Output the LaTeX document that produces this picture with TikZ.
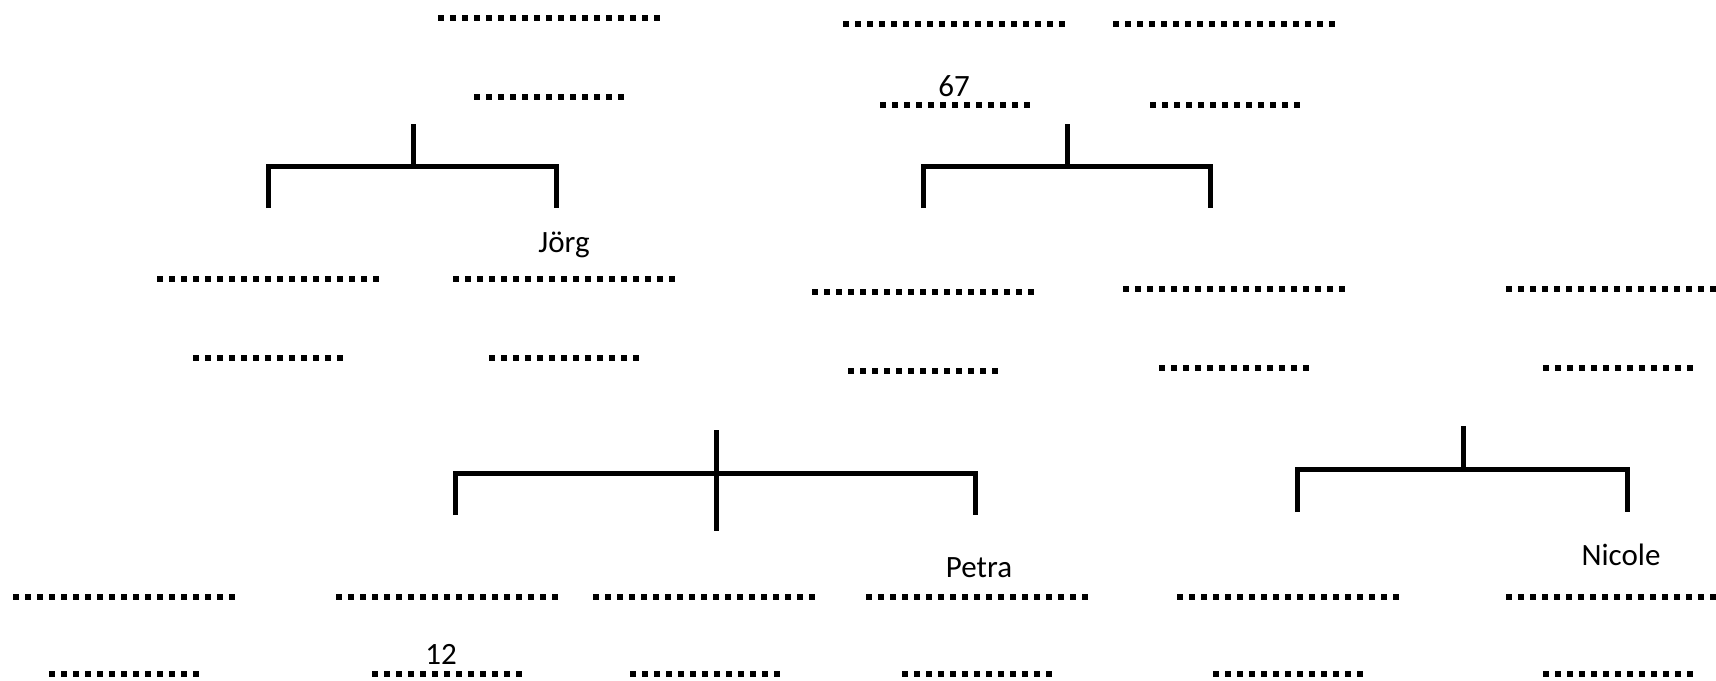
\documentclass[tikz,border=0pt]{standalone}
\usepackage{fontspec}
\setmainfont{Carlito}
\newcommand\sqrow[1]{\rule{5.4pt}{5.4pt}\foreach \k in {2,...,#1}{\hspace{6.6pt}\rule{5.4pt}{5.4pt}}}
\begin{document}
\begin{tikzpicture}[x=1pt,y=-1pt,
    longrow/.style={inner sep=0pt},
    namelabel/.style={inner sep=0pt,anchor=base,font=\fontsize{31}{36}\selectfont},
    bracket/.style={line width=5pt}]
            \useasboundingbox (0,0) rectangle (1716,680);
            % grandparents
            \node[longrow] (gpa) at (549,18) {\sqrow{19}};
            \node[longrow] (gpad) at (549,97) {\sqrow{13}};
            \node[longrow] (gpb) at (954,24) {\sqrow{19}};
            \node[longrow] (gpbd) at (955,105) {\sqrow{13}};
            \node[longrow] (gpc) at (1224,24) {\sqrow{19}};
            \node[longrow] (gpcd) at (1225,105) {\sqrow{13}};
            \node[namelabel] (lbla) at (954,96) {67};
            % parents
            \node[longrow] (pa) at (268,279) {\sqrow{19}};
            \node[longrow] (pad) at (268,358) {\sqrow{13}};
            \node[longrow] (pb) at (564,279) {\sqrow{19}};
            \node[longrow] (pbd) at (564,358) {\sqrow{13}};
            \node[longrow] (pc) at (923,292) {\sqrow{19}};
            \node[longrow] (pcd) at (923,371) {\sqrow{13}};
            \node[longrow] (pd) at (1234,289) {\sqrow{19}};
            \node[longrow] (pdd) at (1234,368) {\sqrow{13}};
            \node[longrow] (pe) at (1617,289) {\sqrow{19}};
            \node[longrow] (ped) at (1618,368) {\sqrow{13}};
            \node[namelabel] (lblb) at (564,252) {Jörg};
            % children
            \node[longrow] (ca) at (124,597) {\sqrow{19}};
            \node[longrow] (cad) at (124,674) {\sqrow{13}};
            \node[longrow] (cb) at (447,597) {\sqrow{19}};
            \node[longrow] (cbd) at (447,674) {\sqrow{13}};
            \node[longrow] (cc) at (704,597) {\sqrow{19}};
            \node[longrow] (ccd) at (705,674) {\sqrow{13}};
            \node[longrow] (cd) at (977,597) {\sqrow{19}};
            \node[longrow] (cdd) at (977,674) {\sqrow{13}};
            \node[longrow] (ce) at (1288,597) {\sqrow{19}};
            \node[longrow] (ced) at (1288,674) {\sqrow{13}};
            \node[longrow] (cf) at (1617,597) {\sqrow{19}};
            \node[longrow] (cfd) at (1618,674) {\sqrow{13}};
            \node[namelabel] (lblc) at (441,664) {12};
            \node[namelabel] (lbld) at (979,577) {Petra};
            \node[namelabel] (lble) at (1621,565) {Nicole};
            % brackets
            \coordinate (ja) at (413,166);
            \coordinate (jas) at (413,124);
            \coordinate (jal) at (268,208);
            \coordinate (jar) at (556,208);
            \coordinate (jb) at (1067,166);
            \coordinate (jbs) at (1067,124);
            \coordinate (jbl) at (923,208);
            \coordinate (jbr) at (1210,208);
            \coordinate (jc) at (716,473);
            \coordinate (jcs) at (716,430);
            \coordinate (jce) at (716,531);
            \coordinate (jcl) at (455,515);
            \coordinate (jcr) at (975,515);
            \coordinate (jd) at (1463,469);
            \coordinate (jds) at (1463,426);
            \coordinate (jdl) at (1297,512);
            \coordinate (jdr) at (1627,512);
            \draw[bracket] (jal) |- (ja) -| (jar);
            \draw[bracket] (jas) -- (ja);
            \draw[bracket] (jbl) |- (jb) -| (jbr);
            \draw[bracket] (jbs) -- (jb);
            \draw[bracket] (jcl) |- (jc) -| (jcr);
            \draw[bracket] (jcs) -- (jce);
            \draw[bracket] (jdl) |- (jd) -| (jdr);
            \draw[bracket] (jds) -- (jd);
        \end{tikzpicture}
\end{document}
